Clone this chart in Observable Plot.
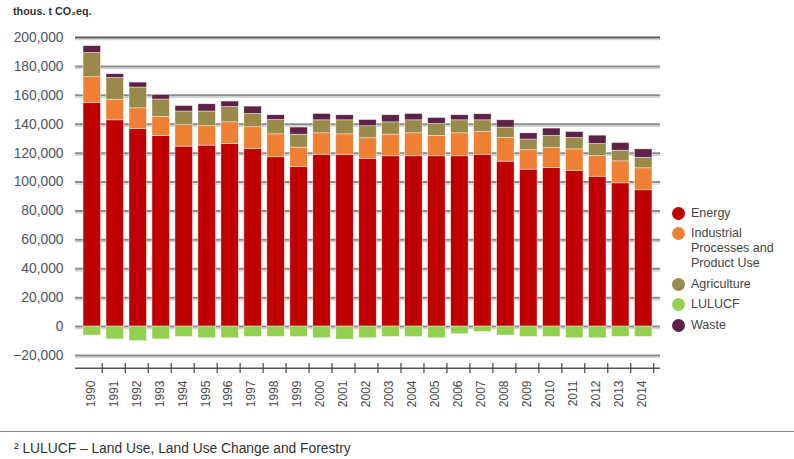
<!DOCTYPE html>
<html><head><meta charset="utf-8">
<script src="https://cdn.jsdelivr.net/npm/d3@7"></script>
<script src="https://cdn.jsdelivr.net/npm/@observablehq/plot@0.6"></script>
<style>
body{margin:0;background:#fff;font-family:"Liberation Sans",Arial,sans-serif;}
#page{position:relative;width:794px;height:459px;overflow:hidden;background:#fff;}
#title{position:absolute;left:13px;top:5px;font-size:10.8px;font-weight:bold;color:#333;}
#chart{position:absolute;left:0;top:24px;}
.item{position:absolute;left:672px;font-size:12.5px;line-height:15px;color:#444;}
.item .dot{position:absolute;left:0;top:1px;width:13px;height:13px;border-radius:50%;}
.item .lab{position:absolute;left:19px;top:0;white-space:nowrap;}
#rule{position:absolute;left:0;top:431px;width:794px;border-top:1.5px solid #8a8a8a;}
#foot{position:absolute;left:14px;top:441px;font-size:13.8px;color:#333;white-space:nowrap;}
</style>
</head><body>
<div id="page">
  <div id="title">thous. t CO₂eq.</div>
  <div id="chart"></div>
  <div id="legend"></div>
  <div id="rule"></div>
  <div id="foot">² LULUCF – Land Use, Land Use Change and Forestry</div>
</div>
<script>
const years = ["1990","1991","1992","1993","1994","1995","1996","1997","1998","1999","2000","2001","2002","2003","2004","2005","2006","2007","2008","2009","2010","2011","2012","2013","2014"];
const categories = ["Energy","Industrial Processes and Product Use","Agriculture","LULUCF","Waste"];
const legendLabels = ["Energy","Industrial<br>Processes and<br>Product Use","Agriculture","LULUCF","Waste"];
const colors = ["#c00000","#ee7f33","#9a8a4a","#92d14f","#5e2148"];
const energy = [154700,142700,136700,131900,124500,125200,126300,122900,117100,110400,118700,118700,115900,117800,117800,117800,117800,118700,114100,108600,109700,107600,103700,99100,94300];
const industrial = [17800,14100,14300,13100,14800,13400,15000,15000,15900,13400,15000,14300,14400,15000,15900,14100,15900,15900,16400,13400,13800,15000,14300,15200,15200];
const agriculture = [16800,15200,14400,12100,9500,10200,10600,9200,9900,9000,9000,9700,8300,8500,9000,8300,9000,8100,7200,7400,8400,7900,8300,7400,7300];
const lulucf = [-6200,-8900,-10100,-8900,-7200,-8100,-8100,-7200,-7200,-7200,-8100,-9000,-8100,-7200,-7200,-8100,-5300,-3700,-6200,-7200,-7200,-8100,-8100,-7200,-7200];
const waste = [4700,2600,3400,3100,3800,5000,3800,5100,3300,4900,4400,3500,4300,4900,4400,4100,3500,4200,5000,4300,5100,4100,5800,5300,5800];
const yTicks = [-20000,0,20000,40000,60000,80000,100000,120000,140000,160000,180000,200000];

const series = [energy, industrial, agriculture, lulucf, waste];
const rows = [];
years.forEach((yr, i) => {
  categories.forEach((c, k) => rows.push({year: yr, category: c, value: series[k][i]}));
});

const chart = Plot.plot({
  width: 665,
  height: 386,
  marginLeft: 75,
  marginRight: 5,
  marginTop: 13,
  marginBottom: 55,
  style: {fontFamily: '"Liberation Sans", Arial, sans-serif', background: "#fff"},
  x: {domain: years, paddingInner: 0.24, paddingOuter: 0.35, round: false, axis: null},
  y: {domain: [-20000, 200000], axis: null},
  color: {domain: categories, range: colors},
  marks: [
    Plot.ruleY(yTicks, {stroke: "#d4d4d4", strokeWidth: 1.5, dy: 2}),
    Plot.ruleY(yTicks, {stroke: d => d === 200000 ? "#5a5a5a" : "#8c8c8c", strokeWidth: 2}),
    Plot.barY(rows, {x: "year", y: "value", fill: "category", order: categories, stroke: "#fff", strokeOpacity: 0.7, strokeWidth: 0.6}),
    Plot.ruleY([-20000], {dy: 12.7, stroke: "#555", strokeWidth: 1.5}),
    Plot.axisX({tickSize: 10, dy: 8, dx: 10, tickFormat: () => "", stroke: "#444", strokeWidth: 1.2, label: null}),
    Plot.axisX({tickSize: 0, tickPadding: 25, tickRotate: -90, fontSize: 12, fill: "#4a4a4a", dx: -1.5, label: null}),
    Plot.axisY(yTicks, {tickSize: 0, tickPadding: 12, fontSize: 13.8, fill: "#4b5563", tickFormat: d3.format(","), label: null})
  ]
});
document.getElementById("chart").appendChild(chart);

const legendTops = [205.8, 225.8, 276.5, 296.8, 317.5];
const legend = document.getElementById("legend");
categories.forEach((c, k) => {
  const div = document.createElement("div");
  div.className = "item";
  div.style.top = legendTops[k] + "px";
  div.innerHTML = `<span class="dot" style="background:${colors[k]}"></span><span class="lab">${legendLabels[k]}</span>`;
  legend.appendChild(div);
});
</script>
</body></html>
